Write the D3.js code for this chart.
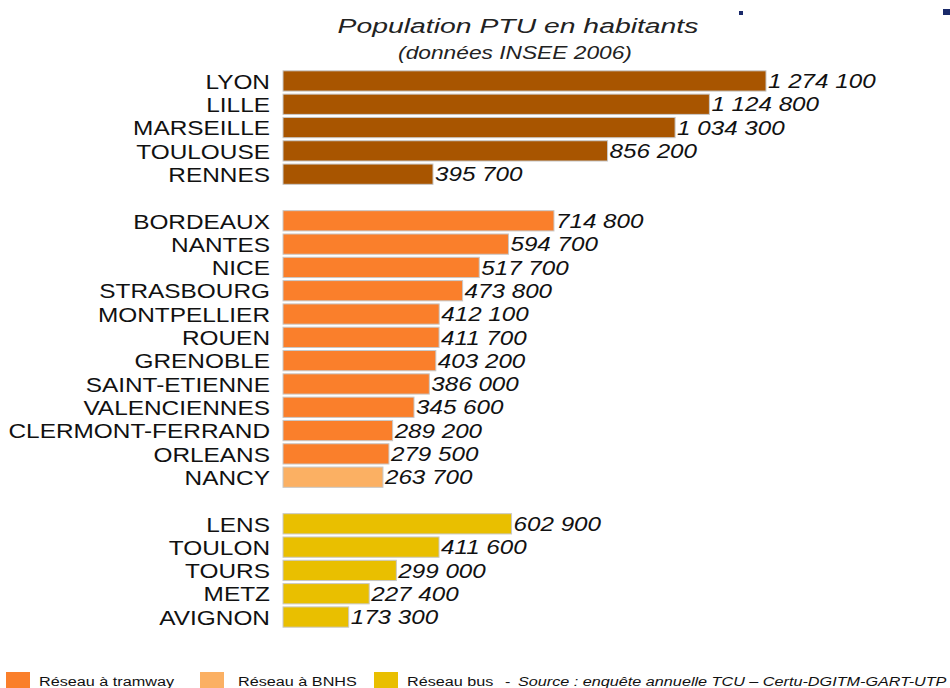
<!DOCTYPE html>
<html>
<head>
<meta charset="utf-8">
<script src="https://cdn.jsdelivr.net/npm/d3@7"></script>
<style>
  body { margin: 0; background: #fff; }
  svg { display: block; font-family: "Liberation Sans", Arial, sans-serif; }
</style>
</head>
<body>
<svg id="chart" width="950" height="688"></svg>
<script>
// villes par groupe (ordre d'affichage)
var villesMetro = ["LYON", "LILLE", "MARSEILLE", "TOULOUSE", "RENNES"]
var popMetro = [1274100, 1124800, 1034300, 856200, 395700]

var villesTram = ["BORDEAUX", "NANTES", "NICE", "STRASBOURG", "MONTPELLIER", "ROUEN", "GRENOBLE",
  "SAINT-ETIENNE", "VALENCIENNES", "CLERMONT-FERRAND", "ORLEANS", "NANCY"]
var popTram = [714800, 594700, 517700, 473800, 412100, 411700, 403200, 386000, 345600, 289200, 279500, 263700]
var typeTram = ["tram", "tram", "tram", "tram", "tram", "tram", "tram", "tram", "tram", "tram", "tram", "bnhs"]

var villesBus = ["LENS", "TOULON", "TOURS", "METZ", "AVIGNON"]
var popBus = [602900, 411600, 299000, 227400, 173300]

var legendItems = ["tram", "bnhs", "bus"]
var legendLabels = ["Réseau à tramway", "Réseau à BNHS", "Réseau bus"]

var colors = { metro: "#A85500", tram: "#FA7F2B", bnhs: "#FBB063", bus: "#E9BF00" }

// build rows, with a blank slot between groups
var rows = []
villesMetro.forEach(function(v, i) { rows.push({ ville: v, pop: popMetro[i], type: "metro" }) })
rows.push({ ville: "_gap1", pop: null })
villesTram.forEach(function(v, i) { rows.push({ ville: v, pop: popTram[i], type: typeTram[i] }) })
rows.push({ ville: "_gap2", pop: null })
villesBus.forEach(function(v, i) { rows.push({ ville: v, pop: popBus[i], type: "bus" }) })

var svg = d3.select("#chart")

var x = d3.scaleLinear().domain([0, 1274100]).range([283, 766])
var y = d3.scaleBand().domain(rows.map(function(d) { return d.ville }))
  .range([69.3, 628.7]).paddingInner(0.13).paddingOuter(0.065)

var fmt = function(n) { return d3.format(",")(n).replace(/,/g, " ") }

// the source picture is stretched sideways, so texts get a horizontal scale
function stretched(sel, tx, ty, sx) {
  return sel.attr("transform", "translate(" + tx + "," + ty + ") scale(" + sx + ",1)")
}

var data = rows.filter(function(d) { return d.pop !== null })

stretched(svg.append("text"), 518, 33, 1.35).attr("text-anchor", "middle")
  .style("font-size", "21px").style("font-style", "italic").attr("fill", "#222")
  .text("Population PTU en habitants")
stretched(svg.append("text"), 515, 59, 1.3).attr("text-anchor", "middle")
  .style("font-size", "17.5px").style("font-style", "italic").attr("fill", "#222")
  .text("(données INSEE 2006)")

// petits restes de logo en haut à droite
svg.append("rect").attr("x", 739).attr("y", 11).attr("width", 4).attr("height", 4).attr("fill", "#1a2a6a")
svg.append("rect").attr("x", 943).attr("y", 9).attr("width", 7).attr("height", 6).attr("fill", "#1a2a6a")

svg.selectAll(".bar").data(data).enter().append("rect")
  .attr("class", "bar")
  .attr("x", x(0))
  .attr("y", function(d) { return y(d.ville) })
  .attr("width", function(d) { return x(d.pop) - x(0) })
  .attr("height", y.bandwidth())
  .attr("fill", function(d) { return colors[d.type] })
  .attr("stroke", "#c8c8c8").attr("stroke-width", 1)

svg.selectAll(".lbl").data(data).enter().append("text")
  .attr("class", "lbl")
  .attr("transform", function(d) { return "translate(270," + (y(d.ville) + y.bandwidth() / 2 + 0.5) + ") scale(1.22,1)" })
  .attr("dy", "0.36em")
  .attr("text-anchor", "end")
  .style("font-size", "20px").attr("fill", "#111")
  .text(function(d) { return d.ville })

svg.selectAll(".val").data(data).enter().append("text")
  .attr("class", "val")
  .attr("transform", function(d) { return "translate(" + (x(d.pop) + 2) + "," + (y(d.ville) + y.bandwidth() / 2) + ") scale(1.21,1)" })
  .attr("dy", "0.36em")
  .style("font-size", "20px").style("font-style", "italic").attr("fill", "#111")
  .text(function(d) { return fmt(d.pop) })

// légende
var legX = [6, 200, 374]
var legTx = [39, 238, 407]
var leg = svg.selectAll(".leg").data(legendItems).enter().append("g")
leg.append("rect")
  .attr("x", function(d, i) { return legX[i] })
  .attr("y", 672).attr("width", 24).attr("height", 18)
  .attr("fill", function(d) { return colors[d] })
leg.append("text")
  .attr("transform", function(d, i) { return "translate(" + legTx[i] + ",686) scale(1.2,1)" })
  .style("font-size", "13.5px").attr("fill", "#111")
  .text(function(d, i) { return legendLabels[i] })
stretched(svg.append("text"), 505, 686, 1.2).style("font-size", "13.5px").attr("fill", "#111")
  .text("-")
stretched(svg.append("text"), 518, 686, 1.2).style("font-size", "13.5px").style("font-style", "italic").attr("fill", "#111")
  .text("Source : enquête annuelle TCU – Certu-DGITM-GART-UTP")
</script>
</body>
</html>
